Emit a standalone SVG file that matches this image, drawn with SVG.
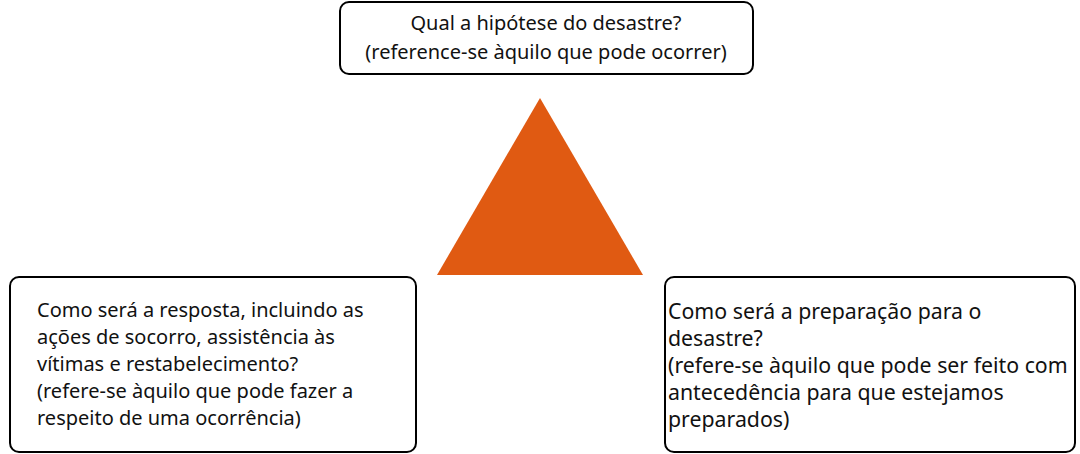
<svg xmlns="http://www.w3.org/2000/svg" width="1080" height="454" viewBox="0 0 1080 454">
<style>
.box{fill:#fff;stroke:#000;stroke-width:2}
.t{font-family:"Noto Sans","Open Sans",sans-serif;font-size:20px;fill:#111}
.r{font-size:21.3px}
</style>
<rect width="1080" height="454" fill="#fff"/>
<g id="triangle"><polygon points="540,98 437,275 643,275" fill="#e05a12"/></g>
<g id="top">
<rect class="box" x="340" y="2" width="413" height="72" rx="9"/>
<text class="t" x="546" y="30" text-anchor="middle">Qual a hipótese do desastre?</text>
<text class="t" x="546" y="59" text-anchor="middle">(reference-se àquilo que pode ocorrer)</text>
</g>
<g id="left">
<rect class="box" x="10" y="277" width="406" height="175" rx="9"/>
<text class="t" x="37" y="317">Como será a resposta, incluindo as</text>
<text class="t" x="37" y="344">ações de socorro, assistência às</text>
<text class="t" x="37" y="371">vítimas e restabelecimento?</text>
<text class="t" x="37" y="398">(refere-se àquilo que pode fazer a</text>
<text class="t" x="37" y="425">respeito de uma ocorrência)</text>
</g>
<g id="right">
<rect class="box" x="665" y="277" width="410" height="175" rx="9"/>
<text class="t r" x="668" y="319">Como será a preparação para o</text>
<text class="t r" x="668" y="346">desastre?</text>
<text class="t r" x="668" y="373">(refere-se àquilo que pode ser feito com</text>
<text class="t r" x="668" y="400">antecedência para que estejamos</text>
<text class="t r" x="668" y="427">preparados)</text>
</g>
<g id="connectors"/>
</svg>
